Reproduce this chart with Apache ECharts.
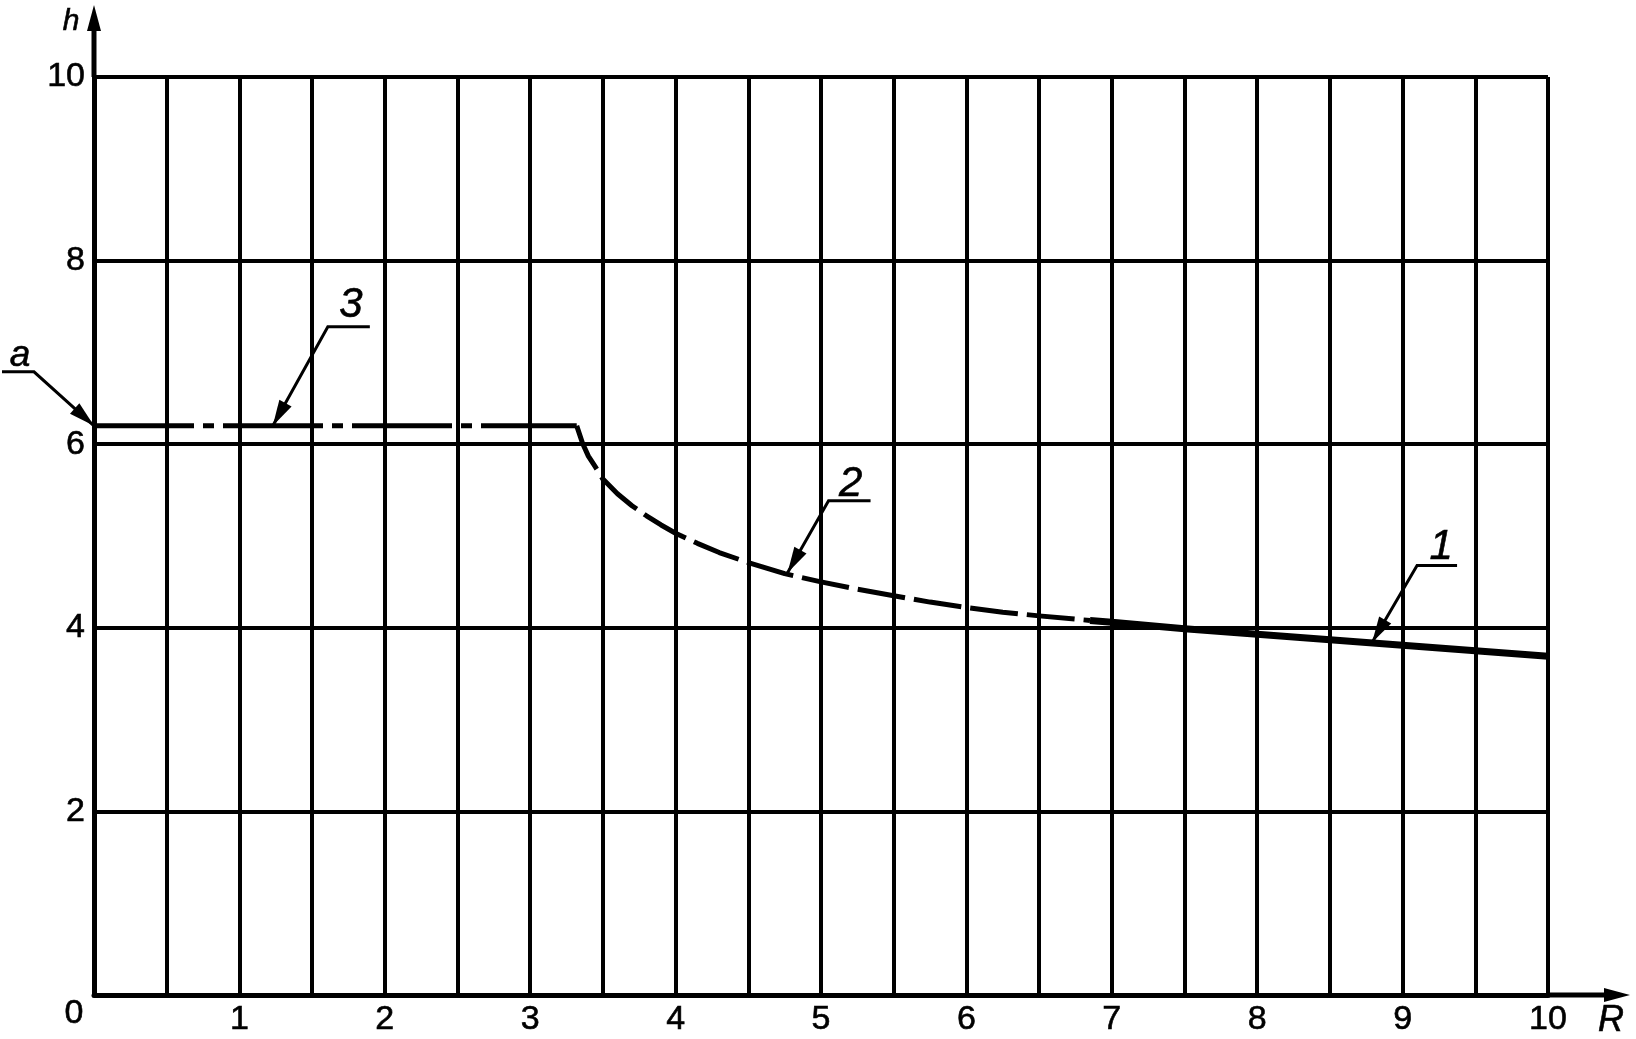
<!DOCTYPE html>
<html><head><meta charset="utf-8">
<script src="https://cdn.jsdelivr.net/npm/echarts@6/dist/echarts.min.js"></script>
<style>html,body{margin:0;padding:0;background:#fff}#c{width:1636px;height:1039px}</style>
</head><body><div id="c"></div>
<script>
// ---- data ----
const xTickLabels = ['1','2','3','4','5','6','7','8','9','10'];
const yTickLabels = ['2','4','6','8','10'];
const originLabel = '0';
const xAxisName = 'R';
const yAxisName = 'h';

// curve 3 (dash-dot, constant)
const curve3R = [0, 3.32];
const curve3H = [6.2, 6.2];
// curve 2 (dashed)
const curve2R = [3.32, 3.36, 3.40, 3.445, 3.5, 3.6, 3.7, 3.8, 3.9, 4.0, 4.15, 4.3, 4.5, 4.75, 5.0, 5.25, 5.5, 5.75, 6.0, 6.25, 6.5, 6.85];
const curve2H = [6.2, 6.01, 5.87, 5.76, 5.62, 5.46, 5.33, 5.22, 5.12, 5.03, 4.92, 4.82, 4.71, 4.59, 4.50, 4.42, 4.35, 4.28, 4.22, 4.17, 4.13, 4.08];
// curve 1 (thick solid)
const curve1R = [6.85, 7.0, 7.5, 8.0, 8.5, 9.0, 9.5, 10.0];
const curve1H = [4.08, 4.06, 3.99, 3.93, 3.87, 3.81, 3.75, 3.69];

// callouts: label and the point on the chart the arrow touches
const calloutLabels = ['a', '3', '2', '1'];
const calloutTipR = [0, 1.23, 4.77, 8.79];
const calloutTipH = [6.2, 6.2, 4.6, 3.84];

// ---- chart ----
const zip = (a, b) => a.map((v, i) => [v, b[i]]);
const FONT = '"Liberation Sans", Arial, sans-serif';
const chart = echarts.init(document.getElementById('c'), null, {renderer: 'canvas'});

const labelStyle = {color: '#000', fontFamily: FONT, fontSize: 34, textBorderColor: '#000', textBorderWidth: 0.6};
const option = {
  animation: false,
  backgroundColor: '#fff',
  grid: {left: 94, right: 88, top: 77, bottom: 44, containLabel: false, outerBoundsMode: 'none'},
  xAxis: {
    type: 'value', min: 0, max: 10, interval: 0.5,
    axisLine: {show: true, lineStyle: {color: '#000', width: 5}},
    axisTick: {show: false},
    splitLine: {show: true, lineStyle: {color: '#000', width: 4}},
    axisLabel: Object.assign({margin: 8,
      formatter: v => { const s = String(v); return xTickLabels.includes(s) ? s : ''; }}, labelStyle)
  },
  yAxis: {
    type: 'value', min: 0, max: 10, interval: 2,
    axisLine: {show: true, lineStyle: {color: '#000', width: 5}},
    axisTick: {show: false},
    splitLine: {show: true, lineStyle: {color: '#000', width: 4}},
    axisLabel: Object.assign({margin: 9,
      formatter: v => { const s = String(v); return yTickLabels.includes(s) ? s : ''; }}, labelStyle)
  },
  series: [
    {
      name: '3', type: 'line', data: zip(curve3R, curve3H), showSymbol: false, silent: true,
      lineStyle: {color: '#000', width: 5, type: [100, 9, 11, 9], cap: 'butt'}
    },
    {
      name: '2', type: 'line', data: zip(curve2R, curve2H), showSymbol: false, silent: true,
      smooth: false,
      lineStyle: {color: '#000', width: 5, type: [48, 9], cap: 'butt', join: 'round'}
    },
    {
      name: '1', type: 'line', data: zip(curve1R, curve1H), showSymbol: false, silent: true,
      smooth: false,
      lineStyle: {color: '#000', width: 7, type: 'solid', cap: 'butt', join: 'round'}
    }
  ]
};
chart.setOption(option);

// ---- decorations: axis arrows, names, origin label, callouts ----
const px = (r, h) => chart.convertToPixel({gridIndex: 0}, [r, h]);
const O = px(0, 0), Xend = px(10, 0), Yend = px(0, 10);
const g = [];
const black = {fill: '#000'};
const txt = (x, y, text, font) => ({type: 'text', x, y, style: {text, font, fill: '#000', stroke: '#000', lineWidth: 0.6, align: 'center', verticalAlign: 'middle'}});
// y axis extension + arrow
g.push({type: 'line', shape: {x1: O[0], y1: Yend[1], x2: O[0], y2: 30}, style: {stroke: '#000', lineWidth: 5}});
g.push({type: 'polygon', shape: {points: [[O[0], 5], [O[0] - 7, 31], [O[0] + 7, 31]]}, style: black});
// x axis extension + arrow
g.push({type: 'line', shape: {x1: Xend[0], y1: O[1], x2: 1606, y2: O[1]}, style: {stroke: '#000', lineWidth: 5}});
g.push({type: 'polygon', shape: {points: [[1630, O[1]], [1604, O[1] - 7], [1604, O[1] + 7]]}, style: black});
// axis names
g.push(txt(71, 22, yAxisName, 'italic 30px ' + FONT));
g.push(txt(Xend[0] + 63, O[1] + 26, xAxisName, 'italic 36px ' + FONT));
// origin label
g.push(txt(O[0] - 20, O[1] + 19, originLabel, '34px ' + FONT));

// callout geometry (pixel offsets from tip): elbow offset, underline direction/length, text centre offset
const calloutGeom = [
  {ex: -60, ey: -54, ul: -32, tx: -74, ty: -70, fs: 37},
  {ex: 55, ey: -99, ul: 42, tx: 78, ty: -121, fs: 42},
  {ex: 41, ey: -72, ul: 42, tx: 63, ty: -88, fs: 42},
  {ex: 45, ey: -77, ul: 40, tx: 69, ty: -95, fs: 42}
];
calloutLabels.forEach((lab, i) => {
  const tip = px(calloutTipR[i], calloutTipH[i]);
  const c = calloutGeom[i];
  const ex = tip[0] + c.ex, ey = tip[1] + c.ey;
  g.push({type: 'polyline', shape: {points: [[ex + c.ul, ey], [ex, ey], [tip[0], tip[1]]]}, style: {stroke: '#000', lineWidth: 3, fill: null}});
  const dx = tip[0] - ex, dy = tip[1] - ey, L = Math.hypot(dx, dy);
  const ux = dx / L, uy = dy / L, al = 26, aw = 7;
  const bx = tip[0] - ux * al, by = tip[1] - uy * al;
  g.push({type: 'polygon', shape: {points: [[tip[0], tip[1]], [bx - uy * aw, by + ux * aw], [bx + uy * aw, by - ux * aw]]}, style: black});
  g.push(txt(tip[0] + c.tx, tip[1] + c.ty, lab, 'italic ' + c.fs + 'px ' + FONT));
});
chart.setOption({graphic: {elements: g}});
</script>
</body></html>
